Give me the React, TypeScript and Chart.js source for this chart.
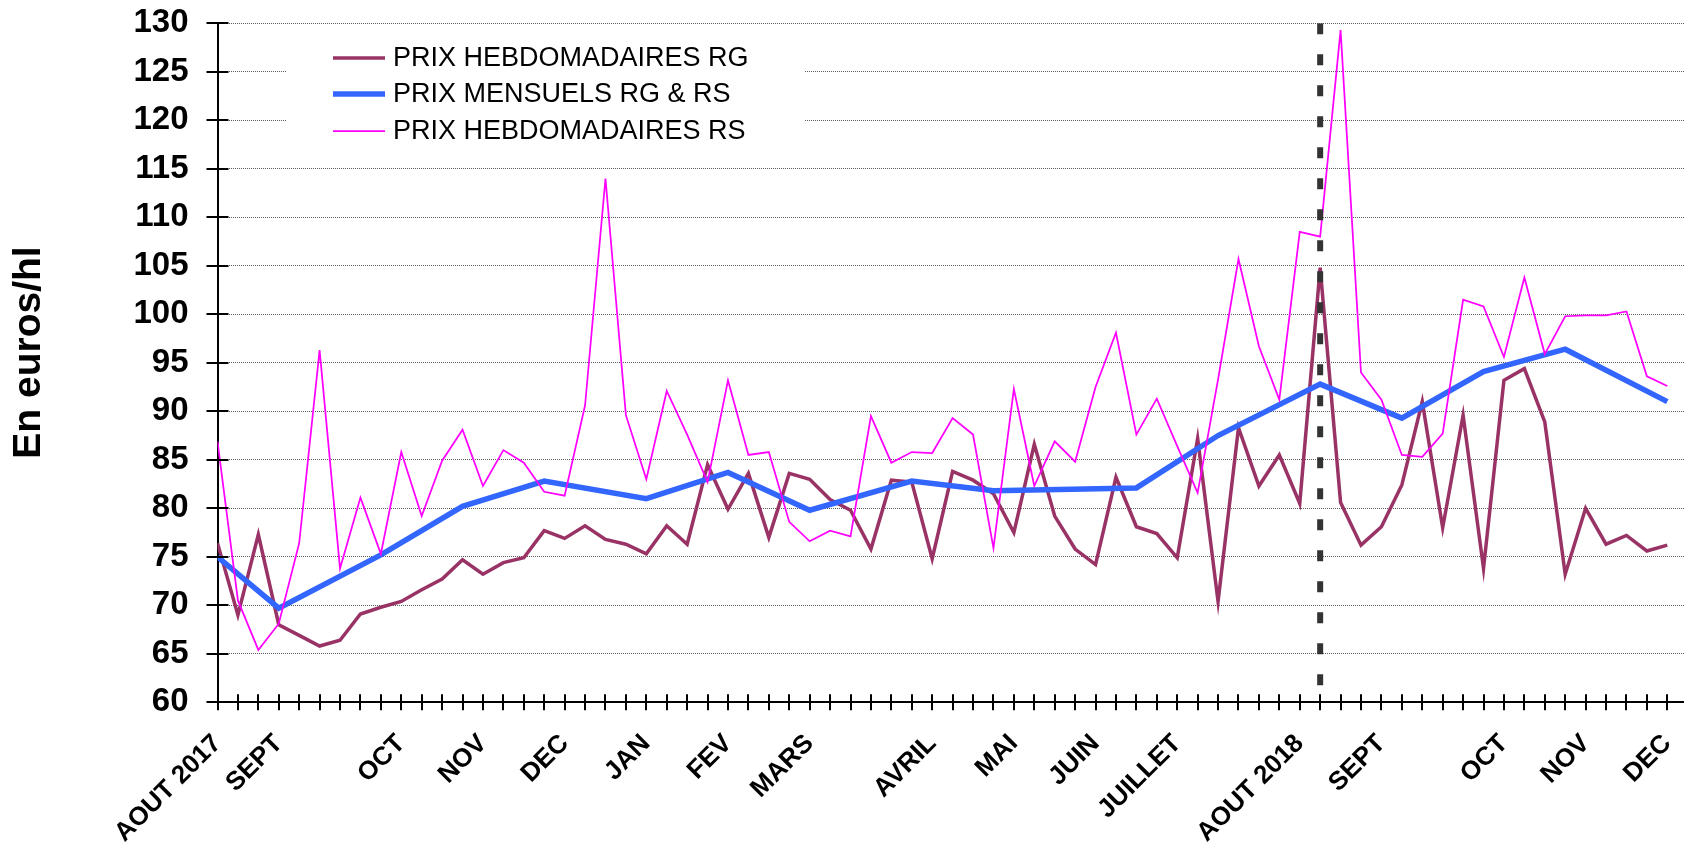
import React, { useEffect, useRef } from 'react';
import { Chart, registerables } from 'chart.js';

Chart.register(...registerables);

// Weekly RG prices (index = week position on the axis)
const prixHebdoRG = [
  76.4, 69.0, 77.3, 68.0, 66.9, 65.8, 66.4, 69.1, 69.8, 70.4, 71.6, 72.7,
  74.7, 73.2, 74.4, 74.9, 77.7, 76.9, 78.2, 76.8, 76.3, 75.3, 78.2, 76.3,
  84.5, 79.9, 83.6, 77.0, 83.6, 83.0, 80.9, 79.8, 75.8, 82.9, 82.7, 74.8,
  83.8, 82.9, 81.5, 77.5, 86.6, 79.2, 75.8, 74.2, 83.2, 78.1, 77.4, 74.9,
  87.2, 70.4, 88.3, 82.3, 85.5, 80.5, 104.8, 80.6, 76.2, 78.1, 82.4, 91.0,
  78.0, 89.6, 73.8, 93.2, 94.4, 88.9, 73.2, 80.0, 76.3, 77.2, 75.6, 76.2,
];

// Weekly RS prices
const prixHebdoRS = [
  86.9, 70.5, 65.4, 68.1, 76.4, 96.3, 73.8, 81.1, 75.3, 85.8, 79.2, 84.9,
  88.1, 82.3, 86.0, 84.7, 81.7, 81.3, 90.6, 114.0, 89.6, 83.0, 92.1, 87.6,
  82.7, 93.2, 85.5, 85.8, 78.6, 76.6, 77.7, 77.1, 89.5, 84.7, 85.8, 85.7,
  89.3, 87.6, 75.9, 92.3, 82.3, 86.9, 84.8, 92.5, 98.1, 87.6, 91.3, 86.4,
  81.6, 93.3, 105.7, 96.7, 91.2, 108.5, 108.0, 129.3, 94.0, 91.2, 85.5, 85.3,
  87.7, 101.5, 100.8, 95.6, 103.8, 95.9, 99.8, 99.9, 99.9, 100.3, 93.6, 92.6,
];

// Monthly RG & RS prices, and the week index where each is plotted
const prixMensuelsIdx = [0, 3, 8, 12, 16, 21, 25, 29, 34, 38, 45, 49, 54, 58, 62, 66, 71];
const prixMensuels = [75.0, 69.7, 75.2, 80.2, 82.8, 81.0, 83.7, 79.8, 82.8, 81.8, 82.1, 87.5, 92.8, 89.3, 94.1, 96.4, 91.0];

// Month tick labels and the week index they sit on
const monthLabels = ['AOUT 2017', 'SEPT', 'OCT', 'NOV', 'DEC', 'JAN', 'FEV', 'MARS', 'AVRIL', 'MAI', 'JUIN', 'JUILLET', 'AOUT 2018', 'SEPT', 'OCT', 'NOV', 'DEC'];
const monthLabelIdx = [0, 3, 9, 13, 17, 21, 25, 29, 35, 39, 43, 47, 53, 57, 63, 67, 71];

// Vertical marker (start of new campaign)
const markerIdx = 54;
const yMin = 60;
const yMax = 130;

const seriesNames = ['PRIX HEBDOMADAIRES RG', 'PRIX MENSUELS RG & RS', 'PRIX HEBDOMADAIRES RS'];
const yTitle = 'En euros/hl';

const FONT = "'Liberation Sans', Arial, sans-serif";

const crossTicksPlugin = {
  id: 'crossTicks',
  afterDraw(chart: any) {
    const { ctx } = chart;
    const xs = chart.scales.x;
    const ys = chart.scales.y;
    ctx.save();
    ctx.strokeStyle = '#000';
    ctx.lineWidth = 2;
    ctx.beginPath();
    xs.ticks.forEach((t: any) => {
      const px = Math.round(xs.getPixelForValue(t.value));
      ctx.moveTo(px, ys.bottom - 8);
      ctx.lineTo(px, ys.bottom + 8);
    });
    ys.ticks.forEach((t: any) => {
      const py = Math.round(ys.getPixelForValue(t.value));
      ctx.moveTo(xs.left - 11, py);
      ctx.lineTo(xs.left + 11, py);
    });
    ctx.stroke();

    // y axis title
    ctx.save();
    ctx.translate(29, 352.5);
    ctx.rotate(-Math.PI / 2);
    ctx.fillStyle = '#000';
    ctx.font = `bold 39px ${FONT}`;
    ctx.textAlign = 'center';
    ctx.textBaseline = 'middle';
    ctx.fillText(yTitle, 0, 0);
    ctx.restore();
    ctx.restore();
  },
};

const boxLegendPlugin = {
  id: 'boxLegend',
  beforeDatasetsDraw(chart: any) {
    const { ctx } = chart;
    ctx.save();
    ctx.fillStyle = '#ffffff';
    ctx.fillRect(287, 31, 517, 127);
    const items = chart.data.datasets.filter((d: any) => d.inLegend);
    const rows = [58, 94, 131];
    items.forEach((d: any, i: number) => {
      const y = rows[i];
      ctx.strokeStyle = d.borderColor;
      ctx.lineWidth = d.borderWidth;
      ctx.beginPath();
      ctx.moveTo(333, y);
      ctx.lineTo(385, y);
      ctx.stroke();
      ctx.fillStyle = '#000';
      ctx.font = `27px ${FONT}`;
      ctx.textBaseline = 'middle';
      ctx.textAlign = 'left';
      ctx.fillText(d.label, 393, y + 1);
    });
    ctx.restore();
  },
};

export default function App() {
  const canvasRef = useRef<HTMLCanvasElement | null>(null);

  useEffect(() => {
    document.body.style.margin = '0';
    const canvas = canvasRef.current;
    if (!canvas) return;

    const lastIdx = prixHebdoRG.length - 1;
    const xMax = lastIdx * (1466.5 / 1449.8);

    const chart = new Chart(canvas, {
      type: 'line',
      data: {
        datasets: [
          {
            label: 'marker',
            data: [
              { x: markerIdx, y: yMax },
              { x: markerIdx, y: yMin },
            ],
            borderColor: '#333333',
            borderWidth: 6,
            borderDash: [11, 20],
            borderCapStyle: 'butt',
            pointRadius: 0,
            order: 0,
            inLegend: false,
          } as any,
          {
            label: seriesNames[0],
            data: prixHebdoRG.map((v, i) => ({ x: i, y: v })),
            borderColor: '#993366',
            borderWidth: 3.5,
            pointRadius: 0,
            tension: 0,
            order: 3,
            inLegend: true,
          } as any,
          {
            label: seriesNames[1],
            data: prixMensuelsIdx.map((ix, k) => ({ x: ix, y: prixMensuels[k] })),
            borderColor: '#3366FF',
            borderWidth: 5.5,
            pointRadius: 0,
            tension: 0,
            order: 2,
            inLegend: true,
          } as any,
          {
            label: seriesNames[2],
            data: prixHebdoRS.map((v, i) => ({ x: i, y: v })),
            borderColor: '#FF00FF',
            borderWidth: 1.75,
            pointRadius: 0,
            tension: 0,
            order: 1,
            inLegend: true,
          } as any,
        ],
      },
      options: {
        animation: false,
        responsive: false,
        maintainAspectRatio: false,
        layout: { padding: { top: 23.3, left: 0, right: 0, bottom: 0 } },
        plugins: {
          legend: { display: false },
          tooltip: { enabled: false },
        },
        scales: {
          x: {
            type: 'linear',
            min: 0,
            max: xMax,
            afterFit: (s: any) => {
              s.height = 145.7;
              s.paddingLeft = 0;
              s.paddingRight = 0;
              s.paddingTop = 0;
              s.paddingBottom = 0;
            },
            ticks: {
              stepSize: 1,
              includeBounds: false,
              autoSkip: false,
              maxRotation: 45,
              minRotation: 45,
              padding: 26,
              color: '#000',
              font: { family: FONT, size: 26, weight: 'bold' },
              callback: (value: any) => {
                const k = monthLabelIdx.indexOf(Math.round(Number(value)));
                return k >= 0 ? monthLabels[k] : '';
              },
            },
            grid: { display: true, drawOnChartArea: false, drawTicks: false },
            border: { display: true, color: '#000', width: 2 },
          },
          y: {
            type: 'linear',
            min: yMin,
            max: yMax,
            afterFit: (s: any) => {
              s.width = 217.5;
              s.paddingTop = 0;
              s.paddingBottom = 0;
            },
            ticks: {
              stepSize: 5,
              padding: 29,
              color: '#000',
              font: { family: FONT, size: 33, weight: 'bold' },
            },
            grid: { color: '#5a5a5a', lineWidth: 1, drawTicks: false },
            border: { display: true, color: '#000', width: 2, dash: [1, 1] },
          },
        },
      },
      plugins: [boxLegendPlugin, crossTicksPlugin],
    });

    return () => chart.destroy();
  }, []);

  return (
    <div style={{ width: 1684, height: 848 }}>
      <canvas ref={canvasRef} width={1684} height={848} style={{ display: 'block' }} />
    </div>
  );
}
